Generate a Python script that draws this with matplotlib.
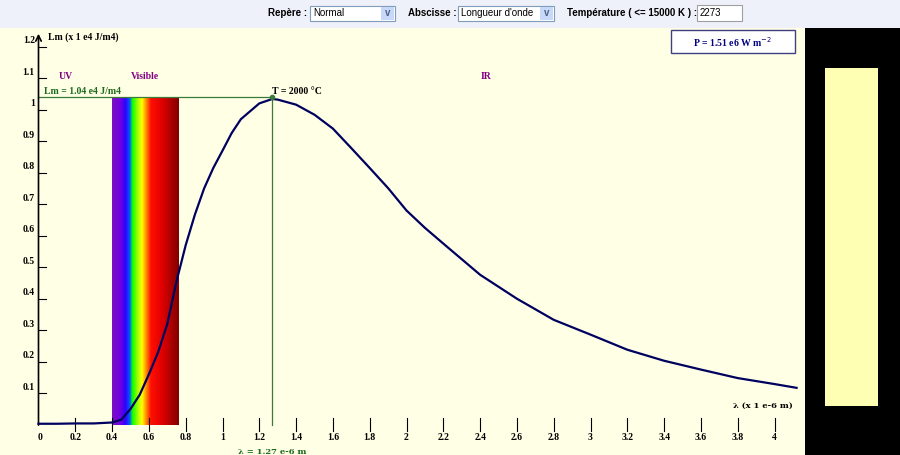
import numpy as np
import matplotlib.pyplot as plt
from matplotlib.colors import LinearSegmentedColormap
from matplotlib.patches import Rectangle

# curve (lambda in 1e-6 m, Lm in 1e4 J/m4)
lam = [0.0, 0.1, 0.2, 0.3, 0.4, 0.45, 0.5, 0.55, 0.6, 0.65, 0.7, 0.75, 0.8, 0.85, 0.9, 0.95,
       1.0, 1.05, 1.1, 1.15, 1.2, 1.27, 1.3, 1.4, 1.5, 1.6, 1.7, 1.8, 1.9, 2.0, 2.1, 2.2,
       2.4, 2.6, 2.8, 3.0, 3.2, 3.4, 3.6, 3.8, 4.0, 4.12]
lm = [0.003, 0.003, 0.004, 0.004, 0.007, 0.016, 0.05, 0.095, 0.16, 0.23, 0.32, 0.455, 0.57, 0.667, 0.75, 0.815,
      0.87, 0.926, 0.97, 0.995, 1.02, 1.034, 1.032, 1.016, 0.984, 0.94, 0.878, 0.815, 0.751, 0.68, 0.625, 0.575,
      0.476, 0.40, 0.333, 0.286, 0.238, 0.203, 0.175, 0.148, 0.129, 0.117]
xticks = [0.2, 0.4, 0.6, 0.8, 1, 1.2, 1.4, 1.6, 1.8, 2, 2.2, 2.4, 2.6, 2.8, 3, 3.2, 3.4, 3.6, 3.8, 4]
yticks = [0.1, 0.2, 0.3, 0.4, 0.5, 0.6, 0.7, 0.8, 0.9, 1, 1.1, 1.2]
lam_max = 1.27
lm_max = 1.04
spectrum = [(0.0, '#7a10c0'), (0.12, '#7000e0'), (0.2, '#3000ff'), (0.27, '#0060ff'), (0.3, '#00ff00'),
            (0.4, '#c0ff00'), (0.45, '#ffff00'), (0.5, '#ffa000'), (0.58, '#ff1000'),
            (0.75, '#e00000'), (1.0, '#800000')]

W, H = 900, 455
fig = plt.figure(figsize=(9, 4.55), dpi=100)
fig.patch.set_facecolor('#eef0fa')
F = dict(family='Liberation Serif', weight='bold', fontsize=7)

# pixel mapping: x=0 at 38.5px, 184 px/unit; y=0 at 424.7px, 315 px/unit
x0, sx, y0, sy = 38.5, 184.0, 424.7, 315.0
top, right = 28, 805
ax = fig.add_axes([0, 0, right / W, (H - top) / H])
ax.set_xlim(-x0 / sx, (right - x0) / sx)
ax.set_ylim(-(H - y0) / sy, (y0 - top) / sy)
ax.axis('off')
ax.add_patch(Rectangle((0, 0), 1, 1, transform=ax.transAxes, facecolor='#ffffe6', zorder=0))

# spectrum band
cmap = LinearSegmentedColormap.from_list('spec', spectrum)
ax.imshow(np.linspace(0, 1, 256)[None, :], cmap=cmap, aspect='auto',
          extent=[0.4, 0.76, 0, lm_max], zorder=1)

# axes arrows
ax.annotate('', xy=(4.22, 0), xytext=(-0.03, 0),
            arrowprops=dict(arrowstyle='->', color='black', lw=1.2), zorder=3)
ax.annotate('', xy=(0, 1.25), xytext=(0, -0.01),
            arrowprops=dict(arrowstyle='->', color='black', lw=1.2), zorder=3)
for t in xticks:
    ax.plot([t, t], [-0.02, 0.02], color='black', lw=0.8)
    ax.text(t, -0.025, f'{t:g}', ha='center', va='top', **F)
ax.text(0.01, -0.025, '0', ha='center', va='top', **F)
for t in yticks:
    ax.plot([0, 0.04], [t, t], color='black', lw=0.8)
    ax.text(-0.02, t + 0.005, f'{t:g}', ha='right', va='bottom', **F)

# peak guides
ax.plot([0, lam_max], [lm_max, lm_max], color='#3a7a3a', lw=0.9, zorder=2)
ax.plot([lam_max, lam_max], [0, lm_max], color='#3a7a3a', lw=0.9, zorder=2)
ax.plot(lam_max, lm_max, 'o', ms=3, color='#3a7a3a', zorder=4)

ax.plot(lam, lm, color='#000060', lw=1.6, zorder=3)

ax.text(0.05, 1.23, 'Lm (x 1 e4 J/m4)', ha='left', va='center', **F)
ax.text(0.15, 1.105, 'UV', color='#800080', ha='center', va='center', **F)
ax.text(0.58, 1.105, 'Visible', color='#800080', ha='center', va='center', **F)
ax.text(2.43, 1.105, 'IR', color='#800080', ha='center', va='center', **F)
ax.text(0.03, 1.045, 'Lm = 1.04 e4 J/m4', color='#1a6a1a', ha='left', va='bottom', **F)
ax.text(lam_max, 1.045, 'T = 2000 °C', ha='left', va='bottom', **F)
ax.text(lam_max, -0.075, 'λ = 1.27 e-6 m', color='#1a6a1a', ha='center', va='top',
        family='DejaVu Serif', weight='bold', fontsize=6)
ax.text(4.1, 0.06, 'λ (x 1 e-6 m)', ha='right', va='center',
        family='DejaVu Serif', weight='bold', fontsize=6)

# power box
fig.patches.append(Rectangle((671 / W, (H - 53) / H), 124 / W, 23 / H, transform=fig.transFigure,
                             facecolor='white', edgecolor='#404080', lw=1))
fig.text(733 / W, (H - 42) / H, 'P = 1.51 e6 W m$^{-2}$', ha='center', va='center',
         color='#000080', **F)

# black panel with colour
fig.patches.append(Rectangle((805 / W, 0), 95 / W, (H - 28) / H, transform=fig.transFigure,
                             facecolor='black'))
fig.patches.append(Rectangle((825 / W, (H - 406) / H), 53 / W, 338 / H, transform=fig.transFigure,
                             facecolor='#ffffb4'))

# top control bar
G = dict(family='Liberation Sans', weight='bold', fontsize=7, va='center')
yb = (H - 13) / H
fig.text(268 / W, yb, 'Repère :', **G)
fig.text(408 / W, yb, 'Abscisse :', **G)
fig.text(567 / W, yb, 'Température ( <= 15000 K ) :', **G)
for x, w, s in [(310, 85, 'Normal'), (458, 96, "Longueur d'onde")]:
    fig.patches.append(Rectangle((x / W, (H - 21) / H), w / W, 15 / H, transform=fig.transFigure,
                                 facecolor='white', edgecolor='#7f9db9', lw=0.8))
    fig.patches.append(Rectangle(((x + w - 14) / W, (H - 20) / H), 13 / W, 13 / H,
                                 transform=fig.transFigure, facecolor='#c8d8f8', edgecolor='none'))
    fig.text((x + w - 7.5) / W, yb, 'v', ha='center', color='#4d6185', **G)
    fig.text((x + 3) / W, yb, s, family='Liberation Sans', fontsize=7, va='center')
fig.patches.append(Rectangle((697 / W, (H - 21) / H), 45 / W, 16 / H, transform=fig.transFigure,
                             facecolor='white', edgecolor='#a0a0a0', lw=0.8))
fig.text(700 / W, yb, '2273', family='Liberation Sans', fontsize=7, va='center')

fig.savefig('out.png', dpi=100, facecolor=fig.get_facecolor())
